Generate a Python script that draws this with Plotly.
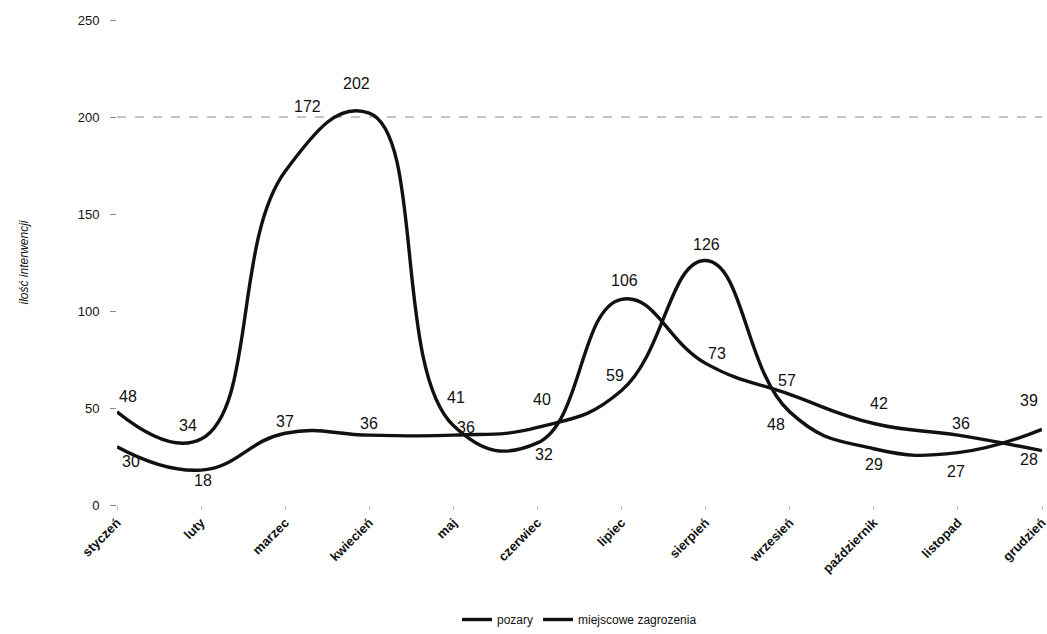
import plotly.graph_objects as go

months = ["styczeń", "luty", "marzec", "kwiecień", "maj", "czerwiec",
          "lipiec", "sierpień", "wrzesień", "październik", "listopad", "grudzień"]
pozary = [48, 34, 172, 202, 41, 32, 106, 73, 57, 42, 36, 28]
miejscowe = [30, 18, 37, 36, 36, 40, 59, 126, 48, 29, 27, 39]
y_ticks = [0, 50, 100, 150, 200, 250]

# label offsets in pixels (style only)
off_a = [(11, -15), (-13, -14), (22, -65), (-13, -30), (3, -28), (7, 12),
         (3, -19), (11, -10), (-3, -14), (5, -20), (3, -12), (-13, 9)]
off_b = [(14, 15), (2, 10), (0, -12), (0, -12), (13, -8), (5, -28),
         (-7, -15), (1, -16), (-14, 13), (0, 16), (-2, 19), (-13, -29)]

x = list(range(len(months)))
font = "Liberation Sans, Arial, sans-serif"

fig = go.Figure()
for name, vals in (("pozary", pozary), ("miejscowe zagrozenia", miejscowe)):
    fig.add_trace(go.Scatter(
        x=x, y=vals, name=name, mode="lines",
        line=dict(color="#111111", width=3.4, shape="spline", smoothing=1.3),
        hoverinfo="x+y"))

annotations = []
for vals, offs in ((pozary, off_a), (miejscowe, off_b)):
    for xi, v, (dx, dy) in zip(x, vals, offs):
        annotations.append(dict(x=xi, y=v, xref="x", yref="y", text=str(v),
                                showarrow=False, xshift=dx, yshift=-dy,
                                font=dict(size=16, color="#111111", family=font)))

fig.add_hline(y=200, line=dict(color="#8a8a8a", width=1, dash="dash"), layer="below")

fig.update_layout(
    width=1047, height=634,
    margin=dict(l=117, r=5, t=20, b=129),
    paper_bgcolor="white", plot_bgcolor="white",
    font=dict(family=font, color="#111111"),
    showlegend=True,
    annotations=annotations,
    legend=dict(orientation="h", x=0.5, xanchor="center",
                yref="container", y=0.0, yanchor="bottom",
                font=dict(size=12, family="Liberation Sans Narrow, Liberation Sans, sans-serif"),
                itemwidth=30, tracegroupgap=0),
    xaxis=dict(tickmode="array", tickvals=x, ticktext=["<b>%s</b>" % m for m in months],
               range=[0, 11], tickangle=-45, tickfont=dict(size=13, family=font),
               showgrid=False, zeroline=False, showline=False, automargin=False,
               ticklabeloverflow="allow",
               ticks="outside", ticklen=4, tickcolor="#bbbbbb"),
    yaxis=dict(range=[0, 250], tickvals=y_ticks, showgrid=False, zeroline=False,
               showline=False, ticks="outside", ticklen=6, tickcolor="#888888",
               automargin=False, ticklabelstandoff=8,
               tickfont=dict(size=13, family=font),
               title=dict(text="<i>ilość interwencji</i>", font=dict(size=12), standoff=46)),
)

fig.write_html("out.html", config={"displayModeBar": False},
               post_script="document.body.style.margin='0';document.body.style.overflow='hidden';")
